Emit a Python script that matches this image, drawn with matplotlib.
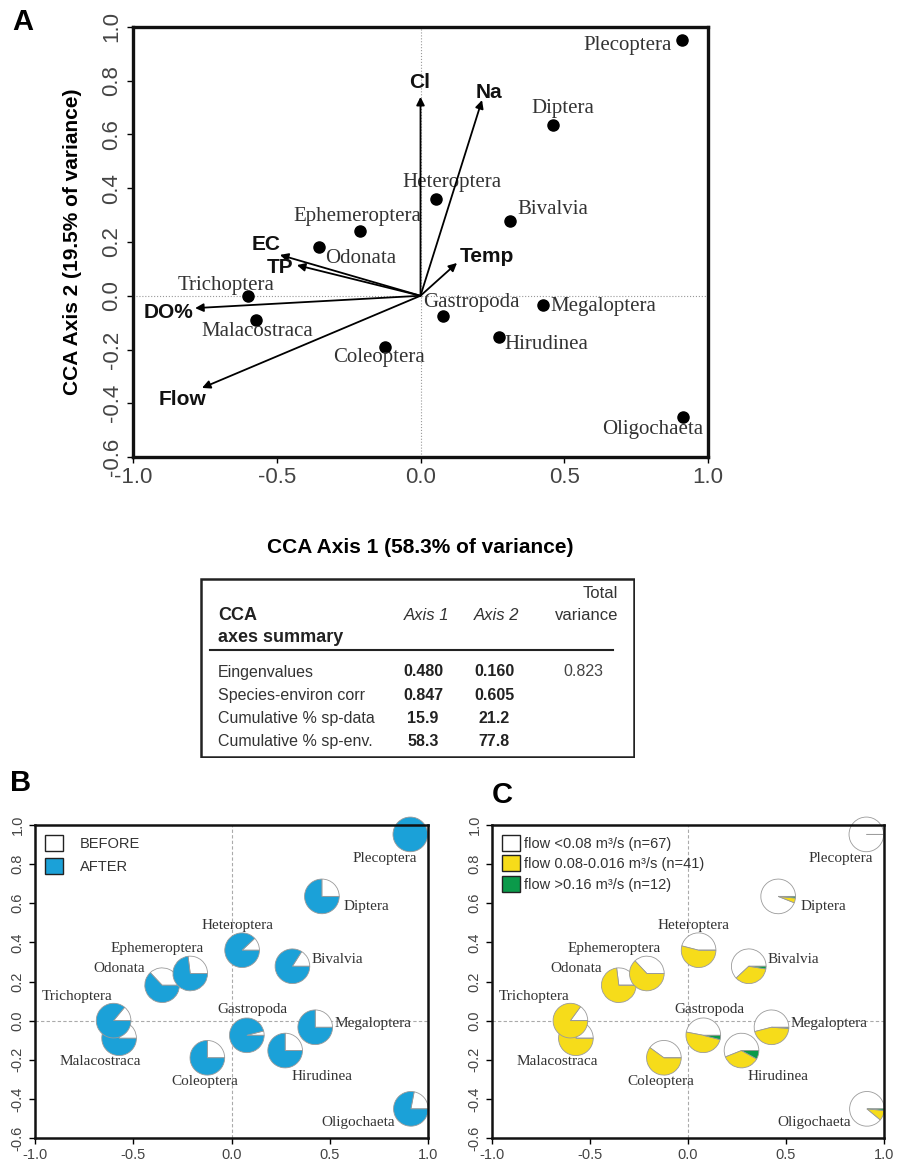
import matplotlib.pyplot as plt
from matplotlib.patches import Patch, Rectangle

plt.rcParams['font.family'] = ['Liberation Sans', 'DejaVu Sans']

# species scores (CCA axis 1, axis 2)
taxa = ['Plecoptera', 'Diptera', 'Heteroptera', 'Bivalvia', 'Odonata', 'Ephemeroptera',
        'Malacostraca', 'Trichoptera', 'Coleoptera', 'Gastropoda', 'Hirudinea',
        'Megaloptera', 'Oligochaeta']
ax1 = [0.91, 0.46, 0.054, 0.31, -0.353, -0.21, -0.572, -0.60, -0.123, 0.078, 0.273, 0.426, 0.913]
ax2 = [0.952, 0.635, 0.36, 0.278, 0.181, 0.241, -0.09, 0.0, -0.19, -0.075, -0.153, -0.034, -0.451]

# environmental vectors
env_vars = ['Cl', 'Na', 'Temp', 'EC', 'TP', 'DO%', 'Flow']
env_ax1 = [0.0, 0.214, 0.127, -0.489, -0.43, -0.784, -0.76]
env_ax2 = [0.74, 0.728, 0.122, 0.152, 0.114, -0.046, -0.343]

# panel B: proportion before / after
before = [0.0, 0.25, 0.12, 0.16, 0.37, 0.27, 0.17, 0.14, 0.25, 0.04, 0.25, 0.25, 0.22]
after = [1 - b for b in before]

# panel C: flow classes
flow_low = [1.0, 0.94, 0.46, 0.62, 0.27, 0.37, 0.22, 0.15, 0.40, 0.47, 0.56, 0.54, 0.89]
flow_mid = [0.0, 0.045, 0.54, 0.355, 0.73, 0.63, 0.78, 0.85, 0.60, 0.49, 0.36, 0.45, 0.095]
flow_high = [0.0, 0.015, 0.0, 0.025, 0.0, 0.0, 0.0, 0.0, 0.0, 0.04, 0.08, 0.01, 0.015]

# summary table
row_names = ['Eingenvalues', 'Species-environ corr', 'Cumulative % sp-data', 'Cumulative % sp-env.']
axis1_vals = ['0.480', '0.847', '15.9', '58.3']
axis2_vals = ['0.160', '0.605', '21.2', '77.8']
total_var = ['0.823', '', '', '']

# label offsets in pixels (dx, dy)
offA = {'Plecoptera': (-55, -6), 'Diptera': (10, 17), 'Heteroptera': (16, 16), 'Bivalvia': (43, 12),
        'Ephemeroptera': (-3, 14), 'Odonata': (42, -11), 'Trichoptera': (-22, 10),
        'Malacostraca': (1, -12), 'Coleoptera': (-6, -11), 'Gastropoda': (28, 13),
        'Megaloptera': (60, -2), 'Hirudinea': (47, -8), 'Oligochaeta': (-30, -13)}
offEnv = {'Cl': (-1, 14), 'Na': (7, 8), 'Temp': (30, 6), 'EC': (-14, 10), 'TP': (-17, -2),
          'DO%': (-27, -4), 'Flow': (-20, -12)}
offBC = {'Plecoptera': (-26, -24), 'Diptera': (45, -10), 'Heteroptera': (-5, 25), 'Bivalvia': (45, 7),
         'Ephemeroptera': (-33, 25), 'Odonata': (-43, 17), 'Trichoptera': (-36, 24),
         'Malacostraca': (-19, -23), 'Coleoptera': (-3, -24), 'Gastropoda': (6, 26),
         'Megaloptera': (58, 4), 'Hirudinea': (37, -26), 'Oligochaeta': (-53, -14)}

W, H = 907, 1162
fig = plt.figure(figsize=(W / 100, H / 100), dpi=100)

def px_axes(l, t, r, b):
    return fig.add_axes([l / W, 1 - b / H, (r - l) / W, (b - t) / H])

serif = ['Liberation Serif', 'DejaVu Serif']
tick_col = '#444444'

def style_axes(a, lw, fs):
    a.set_xlim(-1, 1)
    a.set_ylim(-0.6, 1.0)
    a.set_xticks([-1.0, -0.5, 0.0, 0.5, 1.0])
    a.set_yticks([-0.6, -0.4, -0.2, 0.0, 0.2, 0.4, 0.6, 0.8, 1.0])
    a.xaxis.set_major_formatter(plt.FormatStrFormatter('%.1f'))
    a.yaxis.set_major_formatter(plt.FormatStrFormatter('%.1f'))
    a.tick_params(labelsize=fs, labelcolor=tick_col, length=4, width=1, direction='out')
    a.tick_params(axis='y', labelrotation=90)
    for lab in a.get_yticklabels():
        lab.set_va('center')
    for s in a.spines.values():
        s.set_linewidth(lw)
        s.set_color('#111111')

# ---------------- panel A ----------------
axA = px_axes(133, 27, 708, 457)
style_axes(axA, 2.4, 16)
axA.axhline(0, color='#999999', lw=0.8, ls=':', zorder=0)
axA.axvline(0, color='#999999', lw=0.8, ls=':', zorder=0)
axA.plot(ax1, ax2, 'o', color='black', ms=8, zorder=3)
for name, x, y in zip(taxa, ax1, ax2):
    dx, dy = offA[name]
    axA.annotate(name, (x, y), xytext=(dx, dy), textcoords='offset pixels', ha='center', va='center',
                 fontsize=15, family=serif, color='#333333')
for name, x, y in zip(env_vars, env_ax1, env_ax2):
    axA.annotate('', xy=(x, y), xytext=(0, 0),
                 arrowprops=dict(arrowstyle='-|>', color='black', lw=1.3, mutation_scale=12,
                                 shrinkA=0, shrinkB=0))
    dx, dy = offEnv[name]
    axA.annotate(name, (x, y), xytext=(dx, dy), textcoords='offset pixels', ha='center', va='center',
                 fontsize=15, fontweight='bold', color='#111111')
axA.set_xlabel('CCA Axis 1 (58.3% of variance)', fontsize=15, fontweight='bold', labelpad=36)
axA.set_ylabel('CCA Axis 2 (19.5% of variance)', fontsize=15, fontweight='bold', labelpad=14)
fig.text(23 / W, 1 - 22 / H, 'A', fontsize=21, fontweight='bold', ha='center', va='center')

# ---------------- table ----------------
tl, tt, tr, tb = 200, 578, 635, 758
axT = px_axes(tl, tt, tr, tb)
axT.set_xlim(tl, tr)
axT.set_ylim(tb, tt)
axT.axis('off')
axT.add_patch(Rectangle((tl + 1, tt + 1), tr - tl - 2, tb - tt - 2, fill=False, lw=1.8, ec='#222222'))
axT.plot([210, 613], [650, 650], color='#222222', lw=1.5)
axT.text(218, 615, 'CCA', fontsize=13, fontweight='bold', va='center', color='#222222')
axT.text(218, 638, 'axes summary', fontsize=13, fontweight='bold', va='center', color='#222222')
axT.text(427, 615, 'Axis 1', fontsize=12, style='italic', ha='center', va='center', color='#333333')
axT.text(497, 615, 'Axis 2', fontsize=12, style='italic', ha='center', va='center', color='#333333')
axT.text(618, 593, 'Total', fontsize=12, ha='right', va='center', color='#333333')
axT.text(618, 615, 'variance', fontsize=12, ha='right', va='center', color='#333333')
for i, (rn, v1, v2, tv) in enumerate(zip(row_names, axis1_vals, axis2_vals, total_var)):
    y = 672 + i * 23.3
    axT.text(218, y, rn, fontsize=11.5, va='center', color='#333333')
    axT.text(423, y, v1, fontsize=11.5, fontweight='bold', ha='center', va='center', color='#222222')
    axT.text(494, y, v2, fontsize=11.5, fontweight='bold', ha='center', va='center', color='#222222')
    axT.text(583, y, tv, fontsize=11.5, ha='center', va='center', color='#444444')

# ---------------- panels B and C ----------------
blue = '#1BA1D8'
yellow = '#F6DC1A'
green = '#0B9A4A'
r_px = 17.5

def pie_panel(a, fracs, colors):
    pos = a.get_position()
    ppx = pos.width * W / 2.0
    ppy = pos.height * H / 1.6
    rx, ry = r_px / ppx, r_px / ppy
    for k, (name, x, y) in enumerate(zip(taxa, ax1, ax2)):
        iax = a.inset_axes([x - rx, y - ry, 2 * rx, 2 * ry], transform=a.transData)
        iax.pie([f[k] for f in fracs], colors=colors, startangle=0, counterclock=True,
                wedgeprops=dict(edgecolor='#9a9a9a', linewidth=0.6))
        iax.set_xlim(-1.01, 1.01)
        iax.set_ylim(-1.01, 1.01)
        iax.set_zorder(1 + k * 0.01)
        dx, dy = offBC[name]
        a.annotate(name, (x, y), xytext=(dx, dy), textcoords='offset pixels', ha='center', va='center',
                   fontsize=11, family=serif, color='#333333', zorder=5)

axB = px_axes(35, 825, 428, 1138)
style_axes(axB, 1.8, 10.5)
axB.axhline(0, color='#aaaaaa', lw=0.8, ls=(0, (3, 2)), zorder=0)
axB.axvline(0, color='#aaaaaa', lw=0.8, ls=(0, (3, 2)), zorder=0)
pie_panel(axB, [before, after], ['white', blue])
axB.legend(handles=[Patch(facecolor='white', edgecolor='#222222', label='BEFORE'),
                    Patch(facecolor=blue, edgecolor='#222222', label='AFTER')],
           loc='upper left', frameon=False, fontsize=10.5, handlelength=1.2, handleheight=1.3,
           handletextpad=1.2, borderaxespad=0.3, labelspacing=0.5, labelcolor='#333333')
fig.text(21 / W, 1 - 783 / H, 'B', fontsize=21, fontweight='bold', ha='center', va='center')

axC = px_axes(492, 825, 884, 1138)
style_axes(axC, 1.8, 10.5)
axC.axhline(0, color='#aaaaaa', lw=0.8, ls=(0, (3, 2)), zorder=0)
axC.axvline(0, color='#aaaaaa', lw=0.8, ls=(0, (3, 2)), zorder=0)
pie_panel(axC, [flow_low, flow_mid, flow_high], ['white', yellow, green])
axC.legend(handles=[Patch(facecolor='white', edgecolor='#222222', label='flow <0.08 m³/s (n=67)'),
                    Patch(facecolor=yellow, edgecolor='#222222', label='flow 0.08-0.016 m³/s (n=41)'),
                    Patch(facecolor=green, edgecolor='#222222', label='flow >0.16 m³/s (n=12)')],
           loc='upper left', frameon=False, fontsize=10.5, handlelength=1.2, handleheight=1.3,
           handletextpad=0.3, borderaxespad=0.3, labelspacing=0.3, labelcolor='#333333')
fig.text(502 / W, 1 - 795 / H, 'C', fontsize=21, fontweight='bold', ha='center', va='center')

fig.savefig('out.png', dpi=100)
